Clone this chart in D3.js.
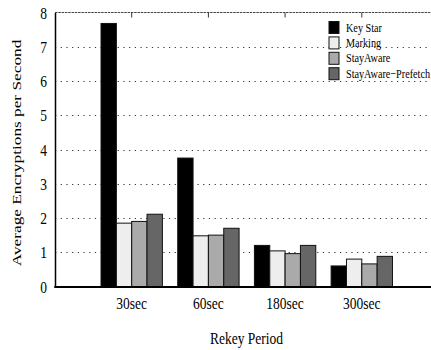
<!DOCTYPE html>
<html>
<head>
<meta charset="utf-8">
<script src="https://cdn.jsdelivr.net/npm/d3@7"></script>
<style>
  html, body { margin: 0; padding: 0; background: #fff; }
  svg { display: block; }
  text { font-family: "Liberation Serif", "Times New Roman", serif; fill: #000; }
</style>
</head>
<body>
<div id="chart"></div>
<script>
// Rekey periods on the x axis
const categories = ["30sec", "60sec", "180sec", "300sec"];
// Series names (legend order)
const seriesNames = ["Key Star", "Marking", "StayAware", "StayAware\u2212Prefetch"];
// Average encryptions per second for each scheme
const keyStar   = [7.68, 3.75, 1.20, 0.60];
const marking   = [1.85, 1.48, 1.04, 0.80];
const stayAware = [1.90, 1.50, 0.96, 0.66];
const prefetch  = [2.11, 1.70, 1.20, 0.88];
const yTicks = [0, 1, 2, 3, 4, 5, 6, 7, 8];

const seriesValues = [keyStar, marking, stayAware, prefetch];
const fills = ["#000000", "#eeeeee", "#aaaaaa", "#666666"];

const W = 431, H = 350;
const plotLeft = 55, plotTop = 12.5, plotBottom = 286.5, plotRight = 438.5;
const sy = 1.28; // vertical stretch of the lettering

const svg = d3.select("#chart").append("svg")
  .attr("width", W).attr("height", H);

// x: category index on a linear range that leaves one slot of space each side
const x = d3.scaleLinear().domain([-1, categories.length]).range([plotLeft, plotRight]);
const slot = x(1) - x(0);
const inner = d3.scaleBand().domain(d3.range(seriesNames.length))
  .range([-0.4 * slot, 0.4 * slot]).paddingInner(0);
const y = d3.scaleLinear().domain([0, 8]).range([plotBottom, plotTop]);

// dotted horizontal grid
svg.append("g")
  .selectAll("line")
  .data(yTicks.filter(t => t > 0 && t < 8))
  .join("line")
  .attr("x1", plotLeft).attr("x2", W)
  .attr("y1", d => Math.round(y(d)) + 0.5).attr("y2", d => Math.round(y(d)) + 0.5)
  .attr("stroke", "#333")
  .attr("stroke-width", 1)
  .attr("stroke-dasharray", "1.2,4.5");

// top frame line with mirrored category ticks
svg.append("line")
  .attr("x1", plotLeft).attr("x2", W)
  .attr("y1", plotTop).attr("y2", plotTop)
  .attr("stroke", "#444").attr("stroke-width", 1.2)
  .attr("stroke-dasharray", "2.5,0.8");
svg.append("g")
  .selectAll("line")
  .data(categories)
  .join("line")
  .attr("x1", (d, i) => x(i)).attr("x2", (d, i) => x(i))
  .attr("y1", plotTop).attr("y2", plotTop + 5)
  .attr("stroke", "#333").attr("stroke-width", 1);

// bars
const groups = svg.append("g")
  .selectAll("g")
  .data(seriesValues)
  .join("g")
  .attr("fill", (d, s) => fills[s]);
groups.selectAll("rect")
  .data((vals, s) => vals.map((v, i) => ({ v, i, s })))
  .join("rect")
  .attr("x", d => x(d.i) + inner(d.s))
  .attr("width", inner.bandwidth())
  .attr("y", d => y(d.v))
  .attr("height", d => y(0) - y(d.v))
  .attr("stroke", "#111")
  .attr("stroke-width", 1);

// y axis
const yAxis = svg.append("g")
  .attr("transform", `translate(${plotLeft},0)`)
  .call(d3.axisLeft(y).tickValues(yTicks).tickFormat(d3.format("d")).tickSize(0).tickPadding(8));
yAxis.select(".domain").attr("stroke", "#000").attr("stroke-width", 1.5);
yAxis.selectAll("text")
  .attr("font-size", 13.5)
  .attr("font-family", "Liberation Serif, Times New Roman, serif")
  .attr("transform", `scale(1,${sy})`);

// x axis baseline
svg.append("line")
  .attr("x1", plotLeft - 0.75).attr("x2", W)
  .attr("y1", plotBottom + 0.5).attr("y2", plotBottom + 0.5)
  .attr("stroke", "#000").attr("stroke-width", 2);

// category labels
svg.append("g")
  .selectAll("text")
  .data(categories)
  .join("text")
  .attr("transform", (d, i) => `translate(${x(i)},308.5) scale(1,${sy})`)
  .attr("text-anchor", "middle")
  .attr("font-size", 13.5)
  .text(d => d);

// axis titles
svg.append("text")
  .attr("transform", `translate(246.5,344) scale(1,${sy})`)
  .attr("text-anchor", "middle")
  .attr("font-size", 13.5)
  .text("Rekey Period");

svg.append("text")
  .attr("transform", `translate(21,153) scale(1,${sy}) rotate(-90)`)
  .attr("text-anchor", "middle")
  .attr("font-size", 13.5)
  .text("Average Encryptions per Second");

// legend
const legend = svg.append("g")
  .selectAll("g")
  .data(seriesNames)
  .join("g")
  .attr("transform", (d, i) => `translate(329,${27.5 + i * 15.4})`);
legend.append("rect")
  .attr("x", 0).attr("y", -6)
  .attr("width", 10).attr("height", 12)
  .attr("fill", (d, i) => fills[i])
  .attr("stroke", "#111").attr("stroke-width", 1);
legend.append("text")
  .attr("transform", `translate(17,4) scale(1,${sy})`)
  .attr("font-size", 10.2)
  .text(d => d);
</script>
</body>
</html>
